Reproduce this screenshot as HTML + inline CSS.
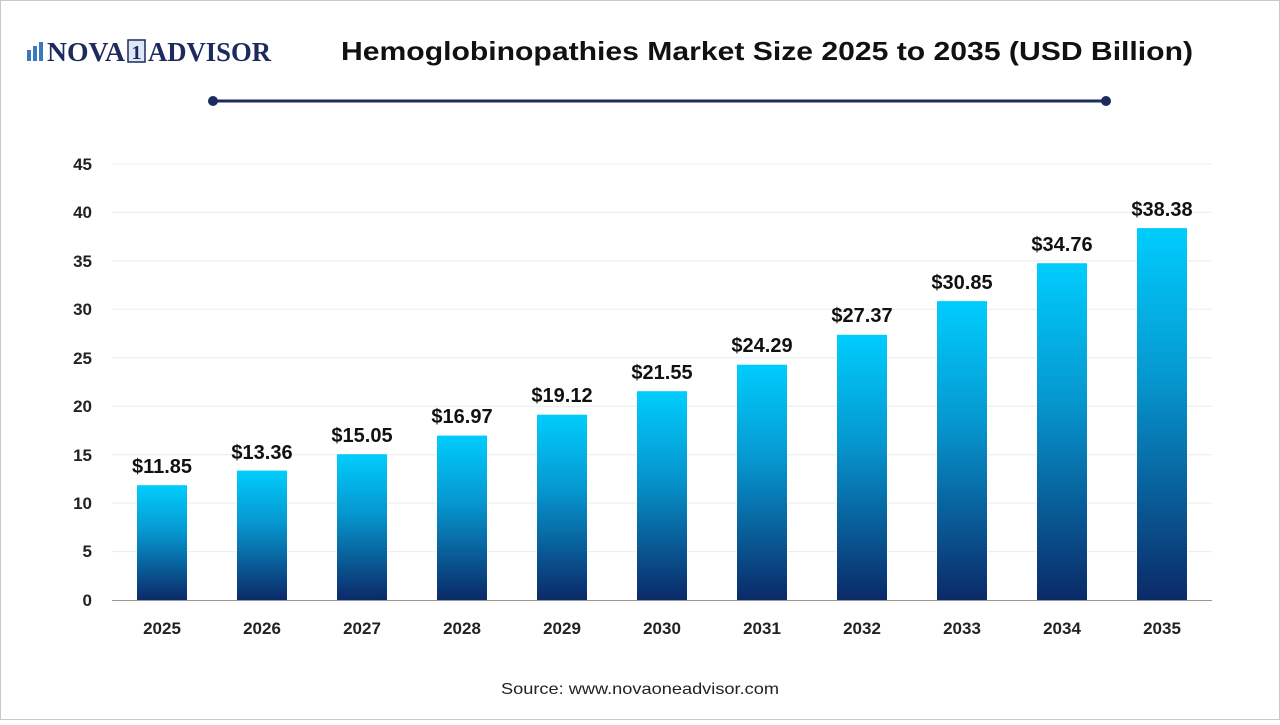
<!DOCTYPE html>
<html><head><meta charset="utf-8"><style>
body{margin:0;width:1280px;height:720px;background:#fff;overflow:hidden;font-family:"Liberation Sans",Arial,sans-serif}
</style></head><body>
<svg width="1280" height="720" xmlns="http://www.w3.org/2000/svg" font-family="Liberation Sans, Arial, sans-serif">
<defs><linearGradient id="g" x1="0" y1="0" x2="0" y2="1">
<stop offset="0" stop-color="#00cdfd"/><stop offset="0.4" stop-color="#0698d0"/><stop offset="1" stop-color="#0b2a68"/></linearGradient></defs>
<rect x="0.5" y="0.5" width="1279" height="719" fill="#fff" stroke="#c8c8c8"/>
<g fill="#3a78c0"><rect x="27" y="50" width="4" height="11"/><rect x="33" y="46" width="4" height="15"/><rect x="39" y="42" width="4" height="19"/></g>
<text x="47" y="61" font-family="Liberation Serif, serif" font-weight="bold" font-size="27" fill="#1c2a5e" textLength="78" lengthAdjust="spacingAndGlyphs">NOVA</text>
<rect x="128" y="40" width="17" height="22" fill="#dce8f5" stroke="#1c2a5e" stroke-width="1.5"/>
<text x="136.5" y="59" text-anchor="middle" font-family="Liberation Serif, serif" font-weight="bold" font-size="20" fill="#1c2a5e">1</text>
<text x="148" y="61" font-family="Liberation Serif, serif" font-weight="bold" font-size="27" fill="#1c2a5e" textLength="123" lengthAdjust="spacingAndGlyphs">ADVISOR</text>
<text x="341" y="60" font-weight="bold" font-size="26" fill="#111" textLength="852" lengthAdjust="spacingAndGlyphs">Hemoglobinopathies Market Size 2025 to 2035 (USD Billion)</text>
<line x1="213" y1="101" x2="1106" y2="101" stroke="#1c2a5e" stroke-width="3"/>
<circle cx="213" cy="101" r="5" fill="#1c2a5e"/><circle cx="1106" cy="101" r="5" fill="#1c2a5e"/>
<g stroke="#ececec" stroke-width="1">
<line x1="112" y1="164" x2="1212" y2="164"/><line x1="112" y1="212.4" x2="1212" y2="212.4"/><line x1="112" y1="260.9" x2="1212" y2="260.9"/><line x1="112" y1="309.3" x2="1212" y2="309.3"/><line x1="112" y1="357.8" x2="1212" y2="357.8"/><line x1="112" y1="406.2" x2="1212" y2="406.2"/><line x1="112" y1="454.7" x2="1212" y2="454.7"/><line x1="112" y1="503.1" x2="1212" y2="503.1"/><line x1="112" y1="551.6" x2="1212" y2="551.6"/>
</g>
<line x1="112" y1="600.5" x2="1212" y2="600.5" stroke="#999"/>
<g font-size="17" font-weight="bold" fill="#222" text-anchor="end">
<text x="92" y="170">45</text><text x="92" y="218">40</text><text x="92" y="267">35</text><text x="92" y="315">30</text><text x="92" y="364">25</text><text x="92" y="412">20</text><text x="92" y="461">15</text><text x="92" y="509">10</text><text x="92" y="557">5</text><text x="92" y="606">0</text>
</g>
<g fill="url(#g)">
<rect x="137" y="485.2" width="50" height="114.8"/>
<rect x="237" y="470.6" width="50" height="129.4"/>
<rect x="337" y="454.2" width="50" height="145.8"/>
<rect x="437" y="435.6" width="50" height="164.4"/>
<rect x="537" y="414.7" width="50" height="185.3"/>
<rect x="637" y="391.2" width="50" height="208.8"/>
<rect x="737" y="364.7" width="50" height="235.3"/>
<rect x="837" y="334.8" width="50" height="265.2"/>
<rect x="937" y="301.1" width="50" height="298.9"/>
<rect x="1037" y="263.2" width="50" height="336.8"/>
<rect x="1137" y="228.1" width="50" height="371.9"/>
</g>
<g font-size="20" font-weight="bold" fill="#111" text-anchor="middle">
<text x="162" y="473">$11.85</text><text x="262" y="459">$13.36</text><text x="362" y="442">$15.05</text><text x="462" y="423">$16.97</text><text x="562" y="402">$19.12</text><text x="662" y="379">$21.55</text><text x="762" y="352">$24.29</text><text x="862" y="322">$27.37</text><text x="962" y="289">$30.85</text><text x="1062" y="251">$34.76</text><text x="1162" y="216">$38.38</text>
</g>
<g font-size="17" font-weight="bold" fill="#222" text-anchor="middle">
<text x="162" y="634">2025</text><text x="262" y="634">2026</text><text x="362" y="634">2027</text><text x="462" y="634">2028</text><text x="562" y="634">2029</text><text x="662" y="634">2030</text><text x="762" y="634">2031</text><text x="862" y="634">2032</text><text x="962" y="634">2033</text><text x="1062" y="634">2034</text><text x="1162" y="634">2035</text>
</g>
<text x="501" y="694" font-size="16" fill="#222" textLength="278" lengthAdjust="spacingAndGlyphs">Source: www.novaoneadvisor.com</text>
</svg>
</body></html>
